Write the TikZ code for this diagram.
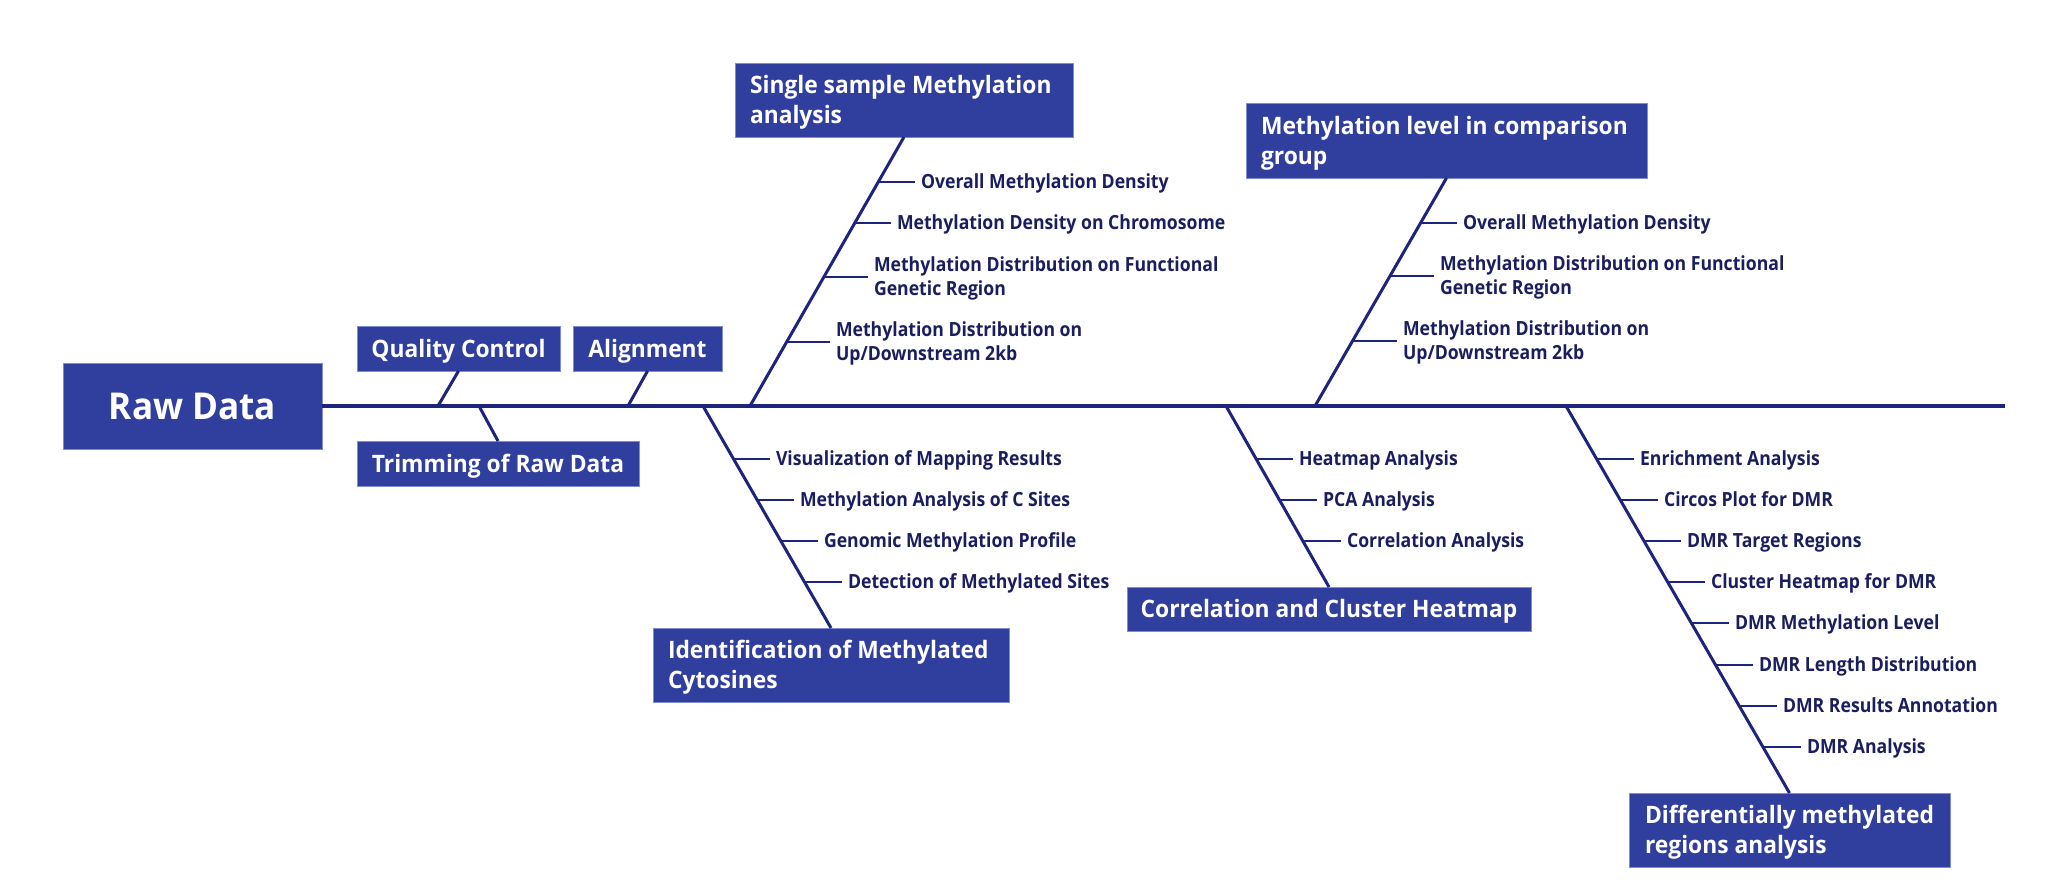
\documentclass[tikz,border=0pt]{standalone}
\usepackage{fontspec}
\setmainfont{Open Sans}
\newfontfamily\labfam{Open Sans}[FakeStretch=0.905]
\newfontfamily\ttlfam{Open Sans}[FakeStretch=0.95]
\definecolor{boxblue}{RGB}{48,62,158}
\definecolor{boxedge}{RGB}{128,140,210}
\definecolor{linenavy}{RGB}{28,36,126}
\definecolor{labnavy}{RGB}{26,30,94}
\newcommand{\rawfont}{\ttlfam\fontsize{37}{44}\bfseries\selectfont}
\newcommand{\ttlfont}{\ttlfam\fontsize{24}{30}\bfseries\selectfont}
\newcommand{\labfont}{\labfam\fontsize{19.5}{24}\bfseries\selectfont}
\tikzset{
  box/.style={fill=boxblue, draw=boxedge, line width=0.8pt, text=white, inner sep=0pt, outer sep=0pt, font=\ttlfont, text height=17.1pt, text depth=0pt},
  ttltext/.style={text=white, inner sep=0pt, outer sep=0pt, anchor=west, align=left, font=\ttlfont, text height=47.1pt, text depth=0pt},
  spine/.style={draw=linenavy, line width=3.5pt},
  bone/.style={draw=linenavy, line width=3pt},
  tick/.style={draw=linenavy, line width=2.2pt},
  lab/.style={text=labnavy, anchor=west, align=left, inner xsep=6pt, inner ysep=0pt, outer sep=0pt, font=\labfont, text height=13.9pt, text depth=0pt},
  lab2/.style={lab, text height=37.9pt}
}
\begin{document}
\begin{tikzpicture}[x=1pt,y=-1pt]
\useasboundingbox (0,0) rectangle (2068,886);
\fill[white] (0,0) rectangle (2068,886);

% main boxes
\node[box, minimum width=259, minimum height=86, font=\rawfont, text height=26.4pt] (raw) at (192.5,406) {Raw Data};
\node[box, minimum width=203, minimum height=45] (qc) at (458.5,348.5) {Quality Control};
\node[box, minimum width=149, minimum height=45] (aln) at (647.5,348.5) {Alignment};
\node[box, minimum width=282, minimum height=45] (trim) at (498,463.5) {Trimming of Raw Data};
\node[box, minimum width=404, minimum height=44] (corr) at (1329,609) {Correlation and Cluster Heatmap};
\node[box, minimum width=338, minimum height=74] (single) at (904,100) {};
\node[ttltext] (singlet) at ([xshift=15pt]single.west) {Single sample Methylation\\analysis};
\node[box, minimum width=401, minimum height=75] (comp) at (1446.5,140.5) {};
\node[ttltext] (compt) at ([xshift=15pt]comp.west) {Methylation level in comparison\\group};
\node[box, minimum width=356, minimum height=74] (ident) at (831,665) {};
\node[ttltext] (identt) at ([xshift=15pt]ident.west) {Identification of Methylated\\Cytosines};
\node[box, minimum width=321, minimum height=74] (dmr) at (1789.5,830) {};
\node[ttltext] (dmrt) at ([xshift=16pt]dmr.west) {Differentially methylated\\regions analysis};

% spine
\coordinate (sEnd) at (2005,406);
\coordinate (sQC) at (438,406);
\coordinate (sTrim) at (479,406);
\coordinate (sAln) at (628,406);
\coordinate (sIdent) at (703,406);
\coordinate (sSingle) at (750,406);
\coordinate (sCorr) at (1226,406);
\coordinate (sComp) at (1315,406);
\coordinate (sDmr) at (1566,406);
\draw[spine] (raw.east) -- (sEnd);

% bones
\draw[bone] (qc.south) -- (sQC);
\draw[bone] (trim.north) -- (sTrim);
\draw[bone] (aln.south) -- (sAln);
\draw[bone] (single.south) -- (sSingle);
\draw[bone] (comp.south) -- (sComp);
\draw[bone] (sIdent) -- (ident.north);
\draw[bone] (sCorr) -- (corr.north);
\draw[bone] (sDmr) -- (dmr.north);

% single sample ticks
\coordinate (a1) at (878,182); \node[lab] (la1) at (915,182) {Overall Methylation Density}; \draw[tick] (a1) -- (la1.west);
\coordinate (a2) at (855,223); \node[lab] (la2) at (891,223) {Methylation Density on Chromosome}; \draw[tick] (a2) -- (la2.west);
\coordinate (a3) at (824,277); \node[lab2] (la3) at (868,277) {Methylation Distribution on Functional\\Genetic Region}; \draw[tick] (a3) -- (la3.west);
\coordinate (a4) at (787,342); \node[lab2] (la4) at (830,342) {Methylation Distribution on\\Up/Downstream 2kb}; \draw[tick] (a4) -- (la4.west);

% comparison ticks
\coordinate (b1) at (1420,223); \node[lab] (lb1) at (1457,223) {Overall Methylation Density}; \draw[tick] (b1) -- (lb1.west);
\coordinate (b2) at (1390,276); \node[lab2] (lb2) at (1434,276) {Methylation Distribution on Functional\\Genetic Region}; \draw[tick] (b2) -- (lb2.west);
\coordinate (b3) at (1352,341); \node[lab2] (lb3) at (1397,341) {Methylation Distribution on\\Up/Downstream 2kb}; \draw[tick] (b3) -- (lb3.west);

% identification ticks
\coordinate (c1) at (733.6,459); \node[lab] (lc1) at (770,459) {Visualization of Mapping Results}; \draw[tick] (c1) -- (lc1.west);
\coordinate (c2) at (757.2,500); \node[lab] (lc2) at (794,500) {Methylation Analysis of C Sites}; \draw[tick] (c2) -- (lc2.west);
\coordinate (c3) at (780.8,541); \node[lab] (lc3) at (818,541) {Genomic Methylation Profile}; \draw[tick] (c3) -- (lc3.west);
\coordinate (c4) at (804.5,582); \node[lab] (lc4) at (842,582) {Detection of Methylated Sites}; \draw[tick] (c4) -- (lc4.west);

% correlation ticks
\coordinate (d1) at (1256,459); \node[lab] (ld1) at (1293,459) {Heatmap Analysis}; \draw[tick] (d1) -- (ld1.west);
\coordinate (d2) at (1279.5,500); \node[lab] (ld2) at (1317,500) {PCA Analysis}; \draw[tick] (d2) -- (ld2.west);
\coordinate (d3) at (1302.8,541); \node[lab] (ld3) at (1341,541) {Correlation Analysis}; \draw[tick] (d3) -- (ld3.west);

% DMR ticks
\coordinate (e1) at (1596.6,459); \node[lab] (le1) at (1634,459) {Enrichment Analysis}; \draw[tick] (e1) -- (le1.west);
\coordinate (e2) at (1620.3,500); \node[lab] (le2) at (1658,500) {Circos Plot for DMR}; \draw[tick] (e2) -- (le2.west);
\coordinate (e3) at (1644,541); \node[lab] (le3) at (1681,541) {DMR Target Regions}; \draw[tick] (e3) -- (le3.west);
\coordinate (e4) at (1667.6,582); \node[lab] (le4) at (1705,582) {Cluster Heatmap for DMR}; \draw[tick] (e4) -- (le4.west);
\coordinate (e5) at (1691.3,623); \node[lab] (le5) at (1729,623) {DMR Methylation Level}; \draw[tick] (e5) -- (le5.west);
\coordinate (e6) at (1715.6,665); \node[lab] (le6) at (1753,665) {DMR Length Distribution}; \draw[tick] (e6) -- (le6.west);
\coordinate (e7) at (1739.3,706); \node[lab] (le7) at (1777,706) {DMR Results Annotation}; \draw[tick] (e7) -- (le7.west);
\coordinate (e8) at (1763,747); \node[lab] (le8) at (1801,747) {DMR Analysis}; \draw[tick] (e8) -- (le8.west);
\end{tikzpicture}
\end{document}
